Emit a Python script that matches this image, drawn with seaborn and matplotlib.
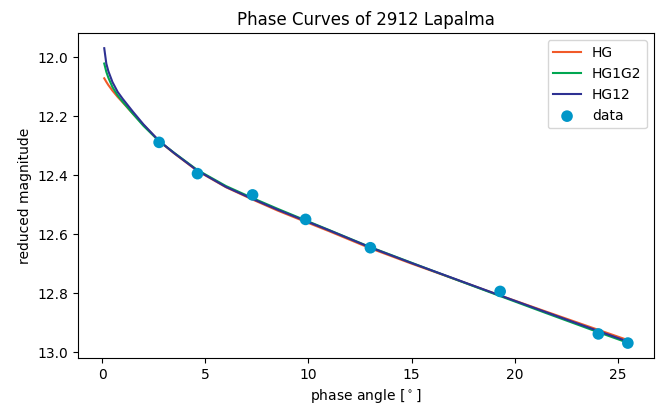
import matplotlib
matplotlib.use("Agg")
import matplotlib.pyplot as plt
import seaborn as sns
import pandas as pd

# model curves
alpha_model = [0.1, 0.2, 0.3, 0.5, 0.75, 1.0, 1.5, 2.0, 2.76, 3.5, 4.6, 6.0,
               7.3, 8.5, 9.85, 11.0, 13.0, 15.0, 17.0, 19.3, 21.5, 24.0, 25.4]
mag_hg = [12.072, 12.084, 12.095, 12.114, 12.135, 12.154, 12.193, 12.230, 12.285,
          12.327, 12.385, 12.441, 12.483, 12.520, 12.558, 12.590, 12.648, 12.700,
          12.750, 12.808, 12.862, 12.923, 12.957]
mag_hg1g2 = [12.022, 12.050, 12.070, 12.102, 12.130, 12.152, 12.193, 12.233, 12.285,
             12.325, 12.382, 12.437, 12.478, 12.514, 12.553, 12.586, 12.644, 12.697,
             12.750, 12.810, 12.867, 12.931, 12.966]
mag_hg12 = [11.970, 12.022, 12.048, 12.085, 12.118, 12.142, 12.186, 12.228, 12.284,
            12.326, 12.384, 12.440, 12.481, 12.517, 12.555, 12.587, 12.645, 12.698,
            12.749, 12.808, 12.864, 12.927, 12.962]

# observations
alpha_obs = [2.76, 4.62, 7.29, 9.86, 13.0, 19.29, 24.05, 25.48]
mag_obs = [12.289, 12.395, 12.467, 12.550, 12.646, 12.794, 12.938, 12.969]

colors = {"HG": "#f15a29", "HG1G2": "#00a651", "HG12": "#2e3192"}
data_color = "#0096c8"

fig, ax = plt.subplots(figsize=(6.56, 4.08), dpi=100)
fig.subplots_adjust(left=0.119, right=0.997, top=0.918, bottom=0.123)

for name, vals in [("HG", mag_hg), ("HG1G2", mag_hg1g2), ("HG12", mag_hg12)]:
    df = pd.DataFrame({"alpha": alpha_model, "mag": vals})
    sns.lineplot(data=df, x="alpha", y="mag", ax=ax, color=colors[name],
                 linewidth=1.5, label=name)

obs = pd.DataFrame({"alpha": alpha_obs, "mag": mag_obs})
sns.scatterplot(data=obs, x="alpha", y="mag", ax=ax, color=data_color, s=70,
                edgecolor="none", label="data", zorder=3)

ax.invert_yaxis()
ax.set_xticks([0, 5, 10, 15, 20, 25])
ax.set_yticks([12.0, 12.2, 12.4, 12.6, 12.8, 13.0])
ax.set_xlabel(r"phase angle [$^\circ$]")
ax.set_ylabel("reduced magnitude")
ax.set_title("Phase Curves of 2912 Lapalma", fontsize=12)
ax.legend(loc="upper right")

fig.savefig("out.png", dpi=100)
